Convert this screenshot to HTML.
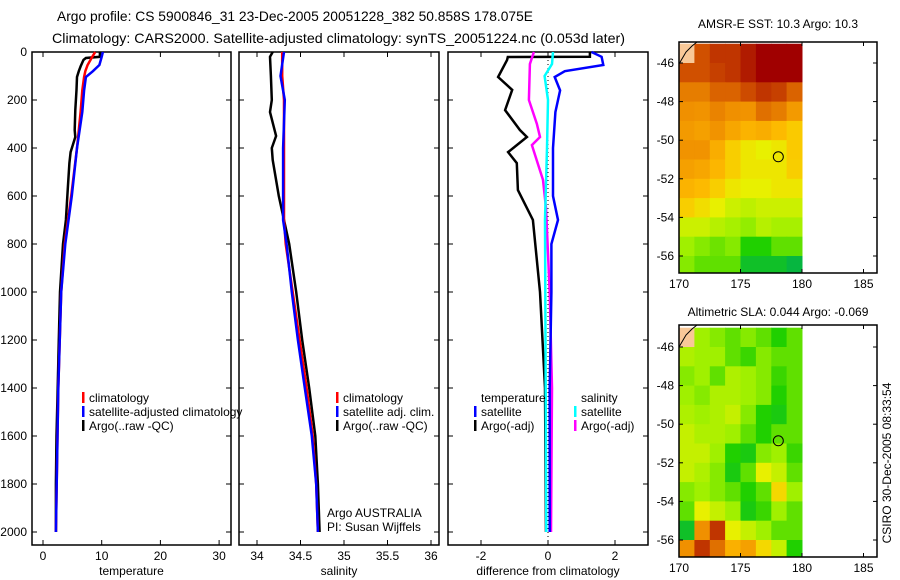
<!DOCTYPE html>
<html><head><meta charset="utf-8"><style>
html,body{margin:0;padding:0;background:#fff}
svg{display:block;font-family:"Liberation Sans",sans-serif;font-size:12px}
</style></head><body>
<svg id="chart" width="900" height="580" viewBox="0 0 900 580">
<rect width="900" height="580" fill="#fff"/>
<text x="57" y="21" font-size="14" textLength="476" lengthAdjust="spacingAndGlyphs">Argo profile: CS 5900846_31 23-Dec-2005 20051228_382 50.858S 178.075E</text>
<text x="52" y="43" font-size="14" textLength="573" lengthAdjust="spacingAndGlyphs">Climatology: CARS2000. Satellite-adjusted climatology: synTS_20051224.nc (0.053d later)</text>
<g id="g"></g>
<text transform="translate(891,463) rotate(-90)" text-anchor="middle" font-size="12">CSIRO 30-Dec-2005 08:33:54</text>
</svg>
<script>
// ---- data ----
const tDepth=[0,20,54,80,104,160,250,400,600,800,1000,1400,2000];
const tClim=[8.9,8.4,7.6,7.2,7.0,6.7,6.4,5.8,4.8,3.7,3.1,2.6,2.2];
const tSat=[10.2,10.0,9.6,8.5,7.3,7.0,6.7,5.8,4.9,3.8,3.1,2.6,2.2];
const aDepth=[0,20,25,33,60,80,104,158,242,325,354,417,463,575,700,800,1000,1200,1400,1600,1800,2000];
const tArgo=[9.7,9.7,7.3,6.9,6.4,6.1,5.8,5.7,5.5,5.4,5.5,4.7,4.5,4.2,3.9,3.4,2.9,2.7,2.5,2.3,2.2,2.2];
const sDepth=[0,100,200,400,500,700,800,1000,1200,1400,1600,1800,2000];
const sClim=[34.29,34.29,34.31,34.31,34.31,34.31,34.33,34.41,34.49,34.57,34.64,34.68,34.70];
const sSat=[34.31,34.27,34.32,34.30,34.30,34.30,34.34,34.40,34.47,34.55,34.63,34.68,34.70];
const sArgoDepth=[0,20,100,200,250,350,400,450,600,800,1000,1200,1400,1600,1800,2000];
const sArgo=[34.18,34.15,34.16,34.17,34.15,34.22,34.17,34.18,34.25,34.37,34.45,34.52,34.60,34.67,34.70,34.72];
const dTSatDepth=[0,20,54,80,104,160,250,400,600,700,800,1000,1400,2000];
const dTSat=[1.3,1.6,1.65,0.5,0.2,0.36,0.22,0.15,0.15,0.3,0.1,0.1,0.05,0.05];
const dTArgoDepth=[0,20,21,33,104,158,242,325,354,417,463,575,700,1000,1400,2000];
const dTArgo=[1.25,1.25,-1.2,-1.22,-1.49,-1.07,-1.28,-0.84,-0.63,-1.19,-0.93,-0.9,-0.45,-0.24,-0.09,-0.06];
const dSDepth=[0,50,100,200,400,700,1000,1400,2000];
const dSSat=[0.15,0.12,-0.1,0.0,-0.03,-0.09,-0.08,-0.07,-0.05];
const dSArgoDepth=[0,50,200,300,354,388,533,650,1000,1400,2000];
const dSArgo=[-0.42,-0.54,-0.57,-0.33,-0.24,-0.48,-0.15,-0.06,0.05,0.12,0.09];
const sstGrid=[
[-1,0.85,0.9,0.9,0.95,1,1,1],
[0.85,0.85,0.88,0.9,0.95,1,1,1],
[0.78,0.78,0.82,0.82,0.86,0.9,0.88,0.82],
[0.75,0.74,0.77,0.75,0.74,0.8,0.78,0.72],
[0.72,0.7,0.74,0.68,0.64,0.66,0.62,0.58],
[0.74,0.74,0.66,0.57,0.52,0.5,0.52,0.58],
[0.7,0.68,0.63,0.57,0.52,0.52,0.52,0.57],
[0.64,0.62,0.57,0.52,0.5,0.5,0.52,0.52],
[0.57,0.54,0.5,0.46,0.44,0.46,0.46,0.46],
[0.46,0.46,0.43,0.41,0.39,0.43,0.41,0.41],
[0.4,0.38,0.36,0.38,0.3,0.3,0.35,0.35],
[0.38,0.35,0.35,0.35,0.25,0.25,0.25,0.22]];
const slaGrid=[
[-1,0.4,0.38,0.35,0.38,0.35,0.3,0.35],
[0.42,0.4,0.4,0.35,0.32,0.38,0.35,0.35],
[0.38,0.4,0.35,0.42,0.4,0.38,0.32,0.35],
[0.4,0.38,0.42,0.42,0.4,0.38,0.3,0.35],
[0.42,0.4,0.42,0.45,0.38,0.3,0.28,0.35],
[0.45,0.42,0.42,0.4,0.35,0.3,0.35,0.35],
[0.45,0.45,0.4,0.3,0.28,0.38,0.4,0.32],
[0.45,0.42,0.38,0.28,0.35,0.5,0.45,0.35],
[0.38,0.4,0.38,0.35,0.3,0.35,0.55,0.4],
[0.35,0.5,0.45,0.4,0.28,0.32,0.4,0.35],
[0.25,0.75,0.9,0.5,0.45,0.4,0.35,0.35],
[0.75,0.9,0.8,0.65,0.7,0.55,0.45,0.3]];
const depthTicks=[0,200,400,600,800,1000,1200,1400,1600,1800,2000];
const tTicks=[0,10,20,30], sTicks=[34,34.5,35,35.5,36], dTicks=[-2,0,2];
const lonTicks=[170,175,180,185], latTicks=[-46,-48,-50,-52,-54,-56];
const argoLon=178.075, argoLat=-50.858;

// ---- helpers ----
const NS='http://www.w3.org/2000/svg', G=document.getElementById('g');
function mk(tag,at,parent){const e=document.createElementNS(NS,tag);for(const k in at)e.setAttribute(k,at[k]);(parent||G).appendChild(e);return e;}
const yD=d=>52+d*0.24;
const xT=v=>43+v*5.87, xS=v=>257+(v-34)*87, xDf=v=>548+v*33.5;
const xLon=v=>679+(v-170)*12.3;
const yLat1=v=>63+(-46-v)*19.3, yLat2=v=>347+(-46-v)*19.3;

function panel(name,x0,x1,y0,y1,xs,xticks,xlab,xfmt){
  const r=mk('rect',{x:x0,y:y0,width:x1-x0,height:y1-y0,fill:'none',stroke:'#000','stroke-width':1.5});
  
  xticks.forEach(t=>{const x=xs(t);
    mk('line',{x1:x,x2:x,y1:y1,y2:y1-5,stroke:'#000'});mk('line',{x1:x,x2:x,y1:y0,y2:y0+5,stroke:'#000'});
    const tx=mk('text',{x:x,y:y1+15,'text-anchor':'middle'});tx.textContent=xfmt?xfmt(t):t;
    });
  depthTicks.forEach(d=>{const y=yD(d);
    mk('line',{x1:x0,x2:x0+5,y1:y,y2:y,stroke:'#000'});mk('line',{x1:x1,x2:x1-5,y1:y,y2:y,stroke:'#000'});});
  const xl=mk('text',{x:(x0+x1)/2,y:575,'text-anchor':'middle'});xl.textContent=xlab;
  
}
function line(name,xs,ds,vs,col,w){
  const pts=ds.map((d,i)=>xs(vs[i]).toFixed(1)+','+yD(d).toFixed(1)).join(' ');
  const p=mk('polyline',{points:pts,fill:'none',stroke:col,'stroke-width':w||2.5,'stroke-linejoin':'miter'});
  
}
function legend(name,x,y,items){
  items.forEach((it,i)=>{
    if(it[1]){const m=mk('rect',{x:x,y:y+i*14-10,width:2.5,height:11,fill:it[1]});}
    const t=mk('text',{x:x+7,y:y+i*14});t.textContent=it[0];
    
  });
}
depthTicks.forEach(d=>{const t=mk('text',{x:27,y:yD(d)+4,'text-anchor':'end'});t.textContent=d;
  });

panel('temperature-panel',32,231,52,545,xT,tTicks,'temperature');
line('temp-argo',xT,aDepth,tArgo,'#000');
line('temp-climatology',xT,tDepth,tClim,'#f00');
line('temp-satellite-clim',xT,tDepth,tSat,'#00f');
legend('temp-legend',82,402,[['climatology','#f00'],['satellite-adjusted climatology','#00f'],['Argo(..raw -QC)','#000']]);

panel('salinity-panel',239,439,52,545,xS,sTicks,'salinity');
line('sal-argo',xS,sArgoDepth,sArgo,'#000');
line('sal-climatology',xS,sDepth,sClim,'#f00');
line('sal-satellite-clim',xS,sDepth,sSat,'#00f');
legend('sal-legend',336,402,[['climatology','#f00'],['satellite adj. clim.','#00f'],['Argo(..raw -QC)','#000']]);
const a1=mk('text',{x:327,y:517});a1.textContent='Argo AUSTRALIA';

const a2=mk('text',{x:327,y:531});a2.textContent='PI: Susan Wijffels';


panel('difference-panel',448,648,52,545,xDf,dTicks,'difference from climatology');
mk('line',{x1:xDf(0),x2:xDf(0),y1:52,y2:545,stroke:'#000','stroke-dasharray':'1,3'});
line('diff-temp-argo',xDf,dTArgoDepth,dTArgo,'#000');
line('diff-sal-argo',xDf,dSArgoDepth,dSArgo,'#f0f');
line('diff-sal-satellite',xDf,dSDepth,dSSat,'#0ff');
line('diff-temp-satellite',xDf,dTSatDepth,dTSat,'#00f');
legend('diff-temp-legend',474,402,[['temperature',null],['satellite','#00f'],['Argo(-adj)','#000']]);
legend('diff-sal-legend',574,402,[['salinity',null],['satellite','#0ff'],['Argo(-adj)','#f0f']]);

// ---- maps ----
const stops=[[0.2,[0,176,80]],[0.3,[32,208,0]],[0.4,[160,240,0]],[0.5,[232,240,0]],[0.6,[255,192,0]],[0.75,[240,144,0]],[0.85,[208,80,0]],[1,[160,0,0]]];
function cmap(v){if(v<0)return '#f8c898';
  for(let i=1;i<stops.length;i++){if(v<=stops[i][0]){const a=stops[i-1],b=stops[i],f=(v-a[0])/(b[0]-a[0]);
    return 'rgb('+a[1].map((c,k)=>Math.round(c+(b[1][k]-c)*f)).join(',')+')';}}
  return 'rgb(160,0,0)';}
function map(name,top,bot,yLat,grid,title,titleY){
  const cw=(xLon(180)-xLon(170))/8;
  grid.forEach((row,r)=>row.forEach((v,c)=>{
    const y=yLat(-45-r), h=yLat(-46-r)-y;
    const y0=Math.max(y,top), y1=Math.min(y+h,bot);
    if(y1<=y0)return;
    const cell=mk('rect',{x:(xLon(170)+c*cw).toFixed(1),y:y0.toFixed(1),width:(cw+0.5).toFixed(1),height:(y1-y0+0.5).toFixed(1),fill:cmap(v)});
    
  }));
  mk('polyline',{points:`679,${top+22} 686,${top+10} 692,${top+4} 697,${top}`,fill:'none',stroke:'#000','stroke-width':1});
  const fr=mk('rect',{x:679,y:top,width:198,height:bot-top,fill:'none',stroke:'#000','stroke-width':1.5});
  
  lonTicks.forEach(t=>{const x=xLon(t);
    mk('line',{x1:x,x2:x,y1:bot,y2:bot-4,stroke:'#000'});mk('line',{x1:x,x2:x,y1:top,y2:top+4,stroke:'#000'});
    const tx=mk('text',{x:x,y:bot+15,'text-anchor':'middle'});tx.textContent=t;
    });
  latTicks.forEach(t=>{const y=yLat(t);
    mk('line',{x1:679,x2:683,y1:y,y2:y,stroke:'#000'});mk('line',{x1:877,x2:873,y1:y,y2:y,stroke:'#000'});
    const tx=mk('text',{x:674,y:y+4,'text-anchor':'end'});tx.textContent=t;
    });
  const c=mk('circle',{cx:xLon(argoLon),cy:yLat(argoLat),r:5,fill:'none',stroke:'#000'});
  
  const tt=mk('text',{x:778,y:titleY,'text-anchor':'middle'});tt.textContent=title;
  
}
map('sst-map',42,273,yLat1,sstGrid,'AMSR-E SST: 10.3 Argo: 10.3',28);
map('sla-map',325,557,yLat2,slaGrid,'Altimetric SLA: 0.044 Argo: -0.069',316);
</script>
</body></html>
